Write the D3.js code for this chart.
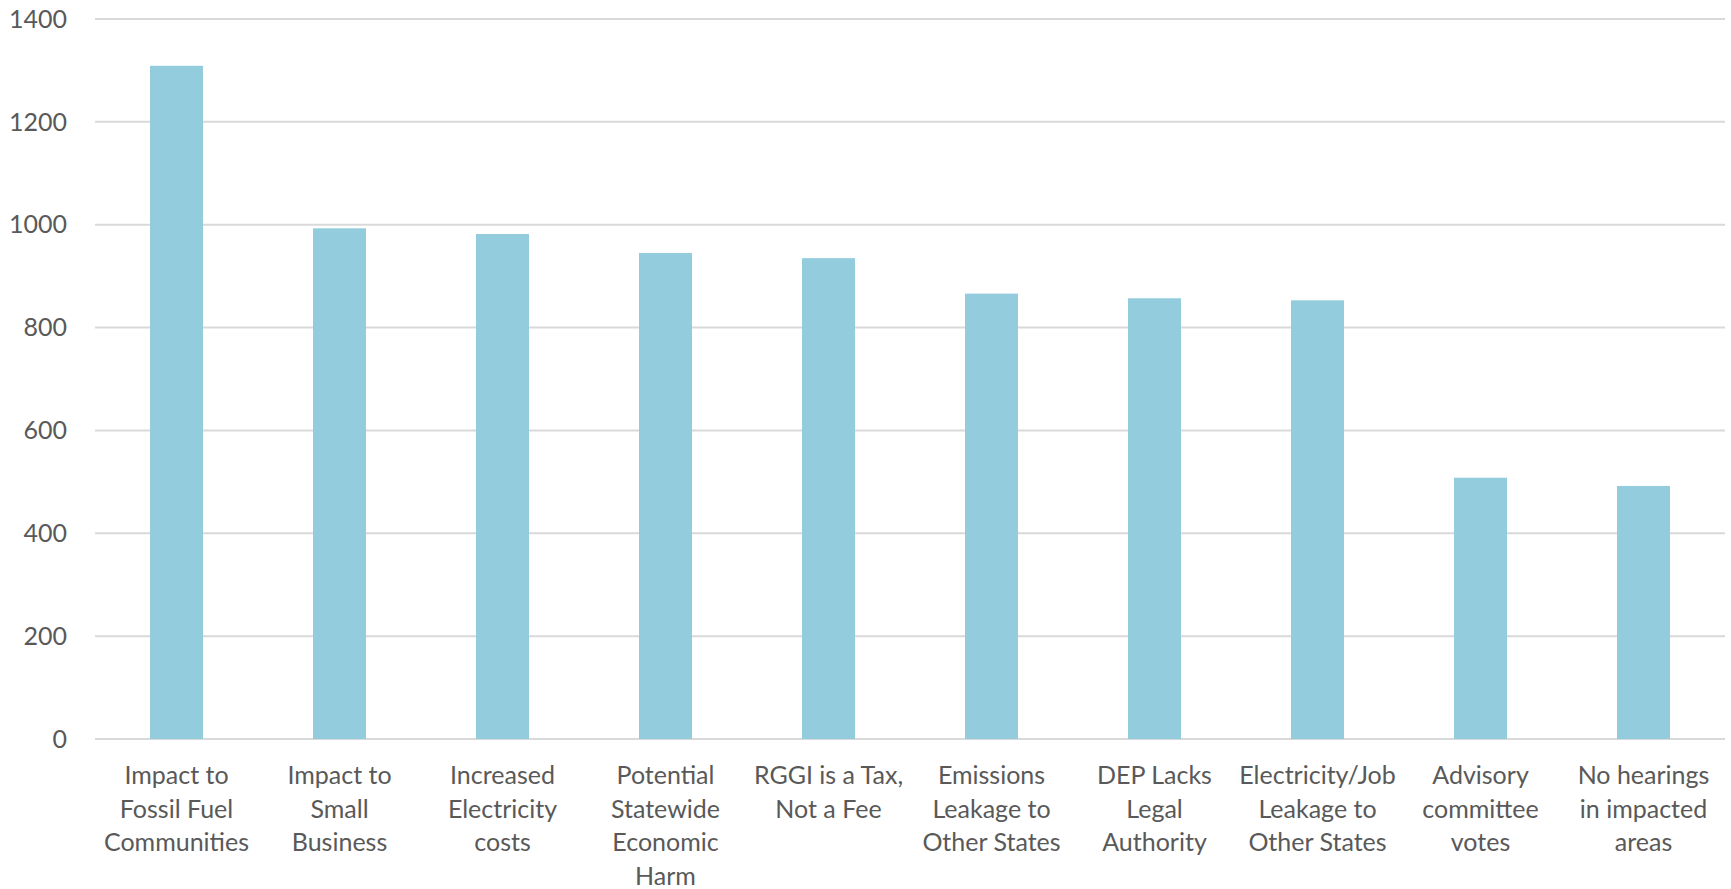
<!DOCTYPE html>
<html>
<head>
<meta charset="utf-8">
<script src="https://cdn.jsdelivr.net/npm/d3@7"></script>
<style>
  html, body { margin: 0; padding: 0; background: #fff; }
  svg { display: block; }
  text { font-family: Lato, "Open Sans", sans-serif; fill: #595959; }
</style>
</head>
<body>
<svg id="chart" width="1731" height="889"></svg>
<script>
const categories = [
  ["Impact to", "Fossil Fuel", "Communities"],
  ["Impact to", "Small", "Business"],
  ["Increased", "Electricity", "costs"],
  ["Potential", "Statewide", "Economic", "Harm"],
  ["RGGI is a Tax,", "Not a Fee"],
  ["Emissions", "Leakage to", "Other States"],
  ["DEP Lacks", "Legal", "Authority"],
  ["Electricity/Job", "Leakage to", "Other States"],
  ["Advisory", "committee", "votes"],
  ["No hearings", "in impacted", "areas"]
];
const values = [1309, 993, 982, 945, 935, 866, 857, 853, 508, 492];
const yTicks = [0, 200, 400, 600, 800, 1000, 1200, 1400];

(function () {
const svg = d3.select("#chart");
const mLeft = 95, mRight = 1725, mTop = 19, mBottom = 739;

const keys = categories.map((c, i) => i);
const x = d3.scaleBand().domain(keys).range([mLeft, mRight]).paddingInner(0.675).paddingOuter(0.3375);
const y = d3.scaleLinear().domain([0, 1400]).range([mBottom, mTop]);

svg.append("g")
  .selectAll("line")
  .data(yTicks)
  .join("line")
  .attr("x1", mLeft).attr("x2", mRight)
  .attr("y1", d => y(d)).attr("y2", d => y(d))
  .attr("stroke", "#d9d9d9").attr("stroke-width", 2);

svg.append("g")
  .selectAll("text")
  .data(yTicks)
  .join("text")
  .attr("x", 67).attr("y", d => y(d))
  .attr("dy", "0.35em")
  .attr("text-anchor", "end")
  .style("font-size", "25px")
  .text(d => d);

svg.append("g")
  .selectAll("rect")
  .data(values)
  .join("rect")
  .attr("x", (d, i) => x(i))
  .attr("width", x.bandwidth())
  .attr("y", d => y(d))
  .attr("height", d => y(0) - y(d))
  .attr("fill", "#93cddd");

const lab = svg.append("g")
  .selectAll("text")
  .data(categories)
  .join("text")
  .attr("text-anchor", "middle")
  .style("font-size", "25px")
  .attr("transform", (d, i) => `translate(${x(i) + x.bandwidth() / 2},784)`);
lab.selectAll("tspan")
  .data(d => d)
  .join("tspan")
  .attr("x", 0)
  .attr("y", (d, j) => j * 33.7)
  .text(d => d);
})();
</script>
</body>
</html>
